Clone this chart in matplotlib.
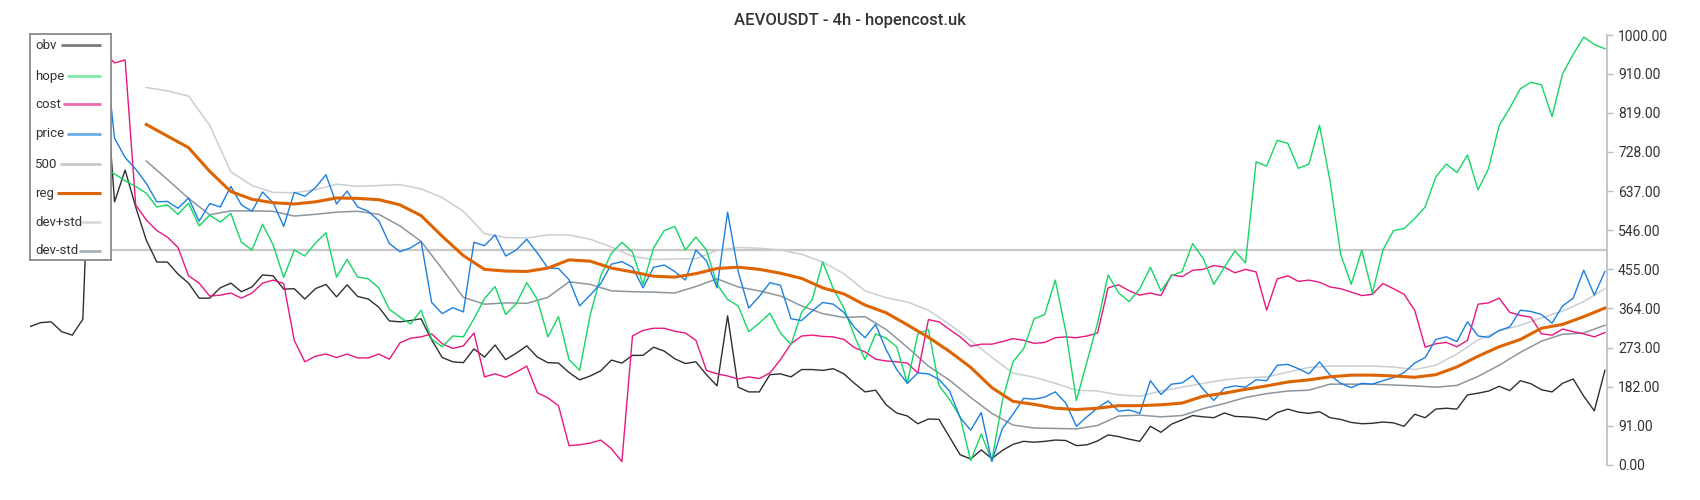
import numpy as np
import matplotlib
matplotlib.use("Agg")
import matplotlib.pyplot as plt

plt.rcParams['font.family'] = ['Roboto', 'DejaVu Sans']

TITLE = "AEVOUSDT - 4h - hopencost.uk"

# one value per candle (every 2nd candle of the source)
obv = [322, 331, 333, 310, 302, 339, 980, 950, 612, 686,
       600, 523, 472, 472, 444, 423, 388, 388, 412, 423,
       403, 414, 442, 440, 409, 410, 386, 410, 420, 391,
       419, 392, 386, 367, 335, 333, 336, 340, 291, 250,
       240, 238, 270, 251, 279, 245, 260, 277, 251, 238,
       237, 215, 198, 207, 219, 244, 237, 255, 255, 274,
       265, 247, 236, 240, 210, 184, 347, 181, 170, 170,
       210, 212, 205, 222, 222, 220, 224, 212, 190, 170,
       174, 140, 121, 114, 96, 107, 106, 65, 24, 14,
       35, 15, 34, 48, 55, 53, 55, 58, 57, 45,
       47, 56, 70, 66, 60, 55, 90, 76, 95, 105,
       115, 112, 110, 121, 113, 112, 110, 105, 122, 130,
       123, 120, 124, 110, 106, 99, 96, 97, 100, 98,
       90, 118, 110, 130, 132, 130, 163, 167, 172, 183,
       173, 196, 189, 175, 170, 190, 200, 160, 126, 220]

hope = [700, 720, 710, 730, 720, 710, 700, 690, 677, 661,
        648, 632, 600, 605, 583, 609, 556, 581, 565, 585,
        518, 500, 560, 512, 436, 500, 486, 516, 540, 437,
        478, 437, 433, 412, 362, 344, 328, 360, 293, 275,
        300, 298, 340, 387, 415, 350, 375, 424, 385, 298,
        345, 245, 220, 349, 440, 492, 518, 495, 420, 505,
        545, 555, 500, 530, 500, 420, 385, 370, 310, 330,
        353, 307, 280, 355, 384, 472, 410, 365, 300, 245,
        305, 295, 275, 190, 305, 315, 185, 152, 112, 10,
        72, 10, 150, 240, 270, 340, 350, 430, 310, 150,
        240, 330, 442, 400, 380, 410, 460, 405, 440, 450,
        515, 480, 420, 460, 498, 470, 705, 695, 755, 748,
        690, 700, 790, 660, 490, 420, 500, 400, 500, 545,
        550, 573, 600, 670, 700, 680, 721, 640, 690, 790,
        830, 875, 890, 884, 810, 910, 955, 995, 978, 968]

cost = [960, 970, 965, 975, 980, 990, 1000, 960, 935, 942,
        605, 570, 545, 530, 506, 440, 423, 393, 395, 400,
        388, 400, 423, 430, 422, 290, 240, 253, 258, 250,
        258, 249, 249, 258, 246, 284, 295, 298, 305, 282,
        271, 277, 307, 205, 212, 204, 216, 230, 168, 156,
        138, 45, 47, 51, 58, 38, 8, 300, 313, 318,
        318, 311, 307, 290, 220, 212, 207, 200, 205, 201,
        214, 245, 282, 300, 302, 299, 298, 292, 273, 263,
        246, 242, 240, 237, 214, 338, 333, 315, 298, 276,
        281, 281, 287, 294, 290, 283, 285, 296, 298, 296,
        300, 307, 412, 419, 405, 395, 400, 394, 442, 438,
        453, 455, 464, 460, 447, 455, 449, 360, 433, 440,
        427, 430, 425, 414, 410, 402, 394, 397, 422, 410,
        397, 360, 274, 282, 285, 275, 290, 374, 377, 388,
        355, 348, 344, 305, 302, 316, 310, 305, 298, 308]

price = [930, 940, 935, 945, 950, 945, 955, 990, 760, 715,
         688, 655, 612, 613, 597, 621, 567, 608, 600, 648,
         605, 590, 635, 610, 555, 634, 625, 645, 675, 607,
         637, 600, 590, 568, 515, 496, 505, 520, 378, 352,
         366, 356, 518, 510, 535, 486, 500, 525, 493, 458,
         457, 431, 370, 395, 422, 467, 473, 460, 412, 460,
         465, 450, 430, 500, 475, 412, 588, 450, 365, 392,
         424, 418, 340, 336, 358, 378, 374, 355, 320, 296,
         327, 268, 222, 190, 214, 212, 199, 172, 110, 81,
         122, 8, 85, 118, 155, 153, 158, 170, 144, 90,
         112, 133, 149, 125, 128, 120, 196, 164, 188, 191,
         208, 176, 150, 179, 184, 181, 198, 196, 232, 234,
         224, 212, 240, 209, 190, 180, 190, 188, 196, 203,
         215, 237, 250, 292, 298, 287, 333, 300, 297, 313,
         321, 360, 357, 350, 330, 370, 388, 453, 395, 450]

# regression + bands, only defined after the warm-up window (every 2nd point)
reg = [792, 765, 738, 683, 636, 618, 610, 607, 612, 621,
       620, 617, 605, 580, 532, 487, 455, 451, 450, 458,
       477, 474, 458, 449, 439, 437, 445, 457, 460, 455,
       446, 434, 412, 398, 372, 354, 326, 297, 264, 227,
       180, 148, 141, 132, 129, 132, 138, 138, 140, 144,
       160, 167, 176, 184, 193, 198, 205, 209, 209, 207,
       204, 210, 228, 253, 275, 292, 318, 327, 345, 365]

dev_up = [878, 870, 858, 790, 682, 650, 634, 633, 640, 653,
          648, 650, 652, 642, 622, 590, 538, 529, 528, 535,
          535, 525, 507, 485, 478, 479, 480, 499, 506, 504,
          500, 490, 472, 445, 405, 389, 379, 360, 327, 290,
          250, 214, 204, 190, 174, 172, 163, 160, 172, 181,
          190, 198, 203, 205, 216, 227, 230, 230, 230, 228,
          222, 232, 258, 291, 312, 325, 342, 358, 380, 410]

dev_dn = [707, 664, 620, 582, 591, 591, 590, 579, 583, 588,
          590, 583, 556, 520, 456, 390, 374, 377, 376, 390,
          426, 420, 405, 403, 402, 400, 415, 433, 414, 405,
          393, 370, 352, 343, 345, 315, 274, 230, 197, 157,
          120, 93, 86, 85, 84, 92, 114, 116, 112, 115,
          131, 143, 157, 166, 172, 174, 188, 188, 188, 186,
          184, 181, 185, 206, 232, 262, 288, 304, 307, 325]

y_ticks = [0, 91, 182, 273, 364, 455, 546, 637, 728, 819, 910, 1000]

x = np.arange(len(obv))
band_x = np.arange(11, 11 + 2 * len(reg), 2)

fig = plt.figure(figsize=(17, 5), dpi=100)
ax = fig.add_axes([30 / 1700, 35 / 500, 1577 / 1700, 430 / 500])

ax.axhline(500, color='#c8c8c8', lw=1.6, zorder=1)
ax.plot(band_x, dev_up, color='#c9ced3', lw=1.1, zorder=2)
ax.plot(band_x, dev_dn, color='#8c969e', lw=1.1, zorder=2)
ax.plot(x, obv, color='#2f2f2f', lw=1.0, zorder=3)
ax.plot(x, cost, color='#e8177f', lw=1.0, zorder=3)
ax.plot(x, hope, color='#13d663', lw=1.0, zorder=3)
ax.plot(x, price, color='#1c7fe0', lw=1.0, zorder=3)
ax.plot(band_x, reg, color='#dd6400', lw=2.2, zorder=4)

ax.set_xlim(0, 149.2)
ax.set_ylim(0, 1000)
for s in ['top', 'left', 'bottom']:
    ax.spines[s].set_visible(False)
ax.spines['right'].set_color('#b8bec4')
ax.spines['right'].set_linewidth(1.2)
ax.set_xticks([])
ax.yaxis.tick_right()
ax.set_yticks(y_ticks)
ax.set_yticklabels([f"{v:.2f}" for v in y_ticks])
ax.tick_params(axis='y', length=4, width=1, color='#b8bec4',
               labelsize=10, labelcolor='#333333', pad=4)

fig.text(0.5, 1 - 21 / 500, TITLE, ha='center', va='center',
         fontsize=12, fontweight='medium', color='#333333')

# hand-built legend box (sits on top of the lines)
lax = fig.add_axes([30 / 1700, 1 - 260 / 500, 81 / 1700, 226 / 500])
lax.set_xlim(0, 81)
lax.set_ylim(226, 0)
lax.set_xticks([])
lax.set_yticks([])
lax.set_facecolor('white')
for s in lax.spines.values():
    s.set_color('#8a8a8a')
    s.set_linewidth(1.3)

leg = [("obv", '#7a7a7a', 31, 11, 2.0),
       ("hope", '#7fe9aa', 37, 42, 2.0),
       ("cost", '#f06bb0', 33, 70, 2.0),
       ("price", '#6aaee8', 37, 100, 2.0),
       ("500", '#c8c8c8', 30, 130, 2.0),
       ("reg", '#dd6400', 27, 159, 2.2),
       ("dev+std", '#d8dcdf', 49, 188, 2.0),
       ("dev-std", '#a9b2ba', 49, 217, 2.0)]
for name, col, x0, yy, w in leg:
    lax.text(5, yy, name, ha='left', va='center', fontsize=9.5, color='#333333')
    lax.plot([x0, 71], [yy, yy], color=col, lw=w, solid_capstyle='butt')

fig.savefig('out.png', dpi=100)
